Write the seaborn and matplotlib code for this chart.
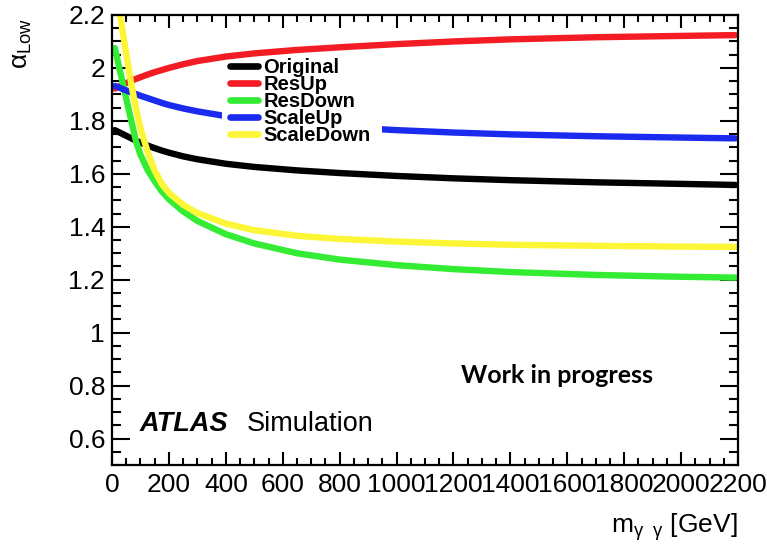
import numpy as np
import pandas as pd
import matplotlib
matplotlib.use("Agg")
import matplotlib.pyplot as plt
from matplotlib.patches import Rectangle
from matplotlib.ticker import MultipleLocator, FuncFormatter
import seaborn as sns

# m_gammagamma sampling points [GeV]
mass = [10, 25, 40, 55, 70, 85, 100, 125, 150, 175, 200, 250, 300, 400, 500,
        650, 800, 1000, 1200, 1400, 1700, 2000, 2190]

# alpha_Low of the low-side tail for each variation
original = [1.765, 1.757, 1.749, 1.741, 1.733, 1.725, 1.718, 1.707, 1.697, 1.688,
            1.680, 1.666, 1.655, 1.638, 1.626, 1.613, 1.603, 1.592, 1.583, 1.576,
            1.568, 1.562, 1.558]
res_up = [1.922, 1.930, 1.938, 1.945, 1.952, 1.959, 1.965, 1.975, 1.984, 1.992,
          2.000, 2.014, 2.026, 2.043, 2.055, 2.068, 2.078, 2.090, 2.100, 2.108,
          2.116, 2.121, 2.124]
res_down = [2.075, 2.003, 1.932, 1.860, 1.790, 1.720, 1.672, 1.615, 1.572, 1.534,
            1.504, 1.458, 1.422, 1.372, 1.337, 1.300, 1.276, 1.255, 1.240, 1.229,
            1.218, 1.211, 1.208]
scale_up = [1.932, 1.926, 1.919, 1.913, 1.907, 1.901, 1.895, 1.886, 1.877, 1.868,
            1.860, 1.847, 1.836, 1.818, 1.805, 1.789, 1.777, 1.765, 1.756, 1.749,
            1.742, 1.737, 1.734]
scale_down = [2.32, 2.22, 2.12, 2.02, 1.925, 1.845, 1.772, 1.683, 1.612, 1.562,
              1.528, 1.483, 1.452, 1.412, 1.387, 1.366, 1.354, 1.344, 1.337, 1.332,
              1.328, 1.325, 1.324]

series_names = ["Original", "ResUp", "ResDown", "ScaleUp", "ScaleDown"]
series_values = [original, res_up, res_down, scale_up, scale_down]
series_colors = ["#000000", "#f41c24", "#33ec33", "#1a2bef", "#fcf636"]

x_ticks = [0, 200, 400, 600, 800, 1000, 1200, 1400, 1600, 1800, 2000, 2200]
y_ticks = [0.6, 0.8, 1.0, 1.2, 1.4, 1.6, 1.8, 2.0, 2.2]

df = pd.concat(
    [pd.DataFrame({"mass": mass, "alpha": vals, "variation": name})
     for name, vals in zip(series_names, series_values)],
    ignore_index=True,
)

sns.set_style("ticks")
plt.rcParams["font.family"] = ["Liberation Sans", "DejaVu Sans"]
plt.rcParams["text.color"] = "black"
plt.rcParams["axes.labelcolor"] = "black"
plt.rcParams["mathtext.fontset"] = "custom"
plt.rcParams["mathtext.rm"] = "Liberation Sans"
plt.rcParams["mathtext.it"] = "Liberation Sans"
plt.rcParams["mathtext.bf"] = "Liberation Sans:bold"

W, H = 767, 546
fig = plt.figure(figsize=(W / 100, H / 100), dpi=100)
ax = fig.add_axes([112 / W, 1 - 465 / H, (738 - 112) / W, (465 - 15) / H])

sns.lineplot(data=df, x="mass", y="alpha", hue="variation",
             hue_order=series_names, palette=dict(zip(series_names, series_colors)),
             linewidth=4.6, ax=ax, legend=True, sort=True)

ax.set_xlim(0, 2200)
ax.set_ylim(0.5, 2.2)
ax.set_xticks(x_ticks)
ax.set_yticks(y_ticks)
ax.xaxis.set_minor_locator(MultipleLocator(50))
ax.yaxis.set_minor_locator(MultipleLocator(0.05))
ax.yaxis.set_major_formatter(FuncFormatter(lambda v, p: f"{v:g}"))
ax.xaxis.set_major_formatter(FuncFormatter(lambda v, p: f"{v:g}"))

for s in ax.spines.values():
    s.set_linewidth(1.6)
    s.set_color("black")

ax.tick_params(axis="both", which="both", direction="in", top=True, right=True,
               width=1.5, colors="black")
ax.tick_params(axis="x", which="major", length=9.7, pad=6, labelsize=19)
ax.tick_params(axis="x", which="minor", length=4.8)
ax.tick_params(axis="y", which="major", length=13, pad=5, labelsize=19)
ax.tick_params(axis="y", which="minor", length=6.5)

ax.set_xlabel("")
ax.set_ylabel("")

# opaque white legend pad covering the curves behind it
ax.add_patch(Rectangle((0.1757, 0.718), 0.2555, 0.177, transform=ax.transAxes,
                       facecolor="white", edgecolor="none", zorder=3))

handles, labels = ax.get_legend_handles_labels()
leg = ax.legend(handles, labels, loc="upper left", bbox_to_anchor=(0.1885, 0.905),
                frameon=False, borderaxespad=0, borderpad=0,
                prop={"weight": "bold", "size": 14.5},
                handlelength=1.4, handletextpad=0.25, labelspacing=-0.1)
leg.set_zorder(5)
for h in leg.get_lines():
    h.set_linewidth(4.8)

fig.text(738 / W, 1 - 533 / H, r"$\mathrm{m}_{\gamma\ \ \gamma}$ [GeV]",
         ha="right", va="baseline", fontsize=19)
fig.text(22 / W, 1 - 18 / H, r"$\alpha_{\mathrm{Low}}$", rotation=90,
         ha="center", va="top", fontsize=19)

fig.text(140 / W, 1 - 431 / H, "ATLAS", fontsize=19.5, fontweight="bold",
         fontstyle="italic", va="baseline", ha="left")
fig.text(247 / W, 1 - 431 / H, "Simulation", fontsize=19.5, va="baseline", ha="left")
fig.text(461 / W, 1 - 383 / H, "Work in progress", fontsize=18, fontweight="bold",
         family=["Lato", "DejaVu Sans"], va="baseline", ha="left")

fig.savefig("out.png", dpi=100, facecolor="white")
